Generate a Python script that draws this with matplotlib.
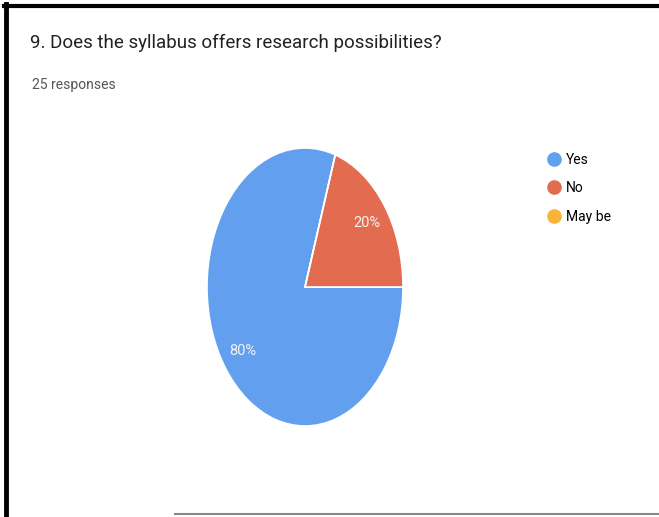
import matplotlib.pyplot as plt
from matplotlib.lines import Line2D

title = '9. Does the syllabus offers research possibilities?'
subtitle = '25 responses'
labels = ['Yes', 'No', 'May be']
values = [80, 20, 0]
colors = ['#62a0ef', '#e36b4f', '#f8b439']

plt.rcParams['font.family'] = ['Roboto', 'DejaVu Sans']

fig = plt.figure(figsize=(6.59, 5.17), dpi=100)
fig.patch.set_facecolor('white')

# pie drawn stretched (scan looks squeezed horizontally)
ax = fig.add_axes([207 / 659, 91 / 517, 196 / 659, 278 / 517])
wedges, texts, autotexts = ax.pie(values, colors=colors, startangle=72, counterclock=True,
                                  autopct=lambda p: '%d%%' % round(p) if p > 0 else '',
                                  pctdistance=0.78,
                                  wedgeprops=dict(linewidth=1.2, edgecolor='white'),
                                  textprops=dict(color='#f3f3f3', fontsize=10.5))
ax.set_aspect('auto')
ax.set_xlim(-1, 1)
ax.set_ylim(-1, 1)

# title and response count
fig.text(30 / 659, 1 - 43 / 517, title, fontsize=13.5, color='#222222', va='center', ha='left')
fig.text(32 / 659, 1 - 85 / 517, subtitle, fontsize=10, color='#555555', va='center', ha='left')

# legend
handles = [Line2D([0], [0], marker='o', linestyle='', markersize=9.5,
                  markerfacecolor=c, markeredgecolor=c) for c in colors]
fig.legend(handles, labels, loc='upper left', bbox_to_anchor=(541 / 659, 1 - 147 / 517),
           frameon=False, fontsize=10, handletextpad=0.4, labelspacing=1.05,
           handlelength=1.0, borderaxespad=0)

# scan border
fig.add_artist(Line2D([6 / 659, 6 / 659], [0, 1 - 4 / 517], color='black', linewidth=3.5))
fig.add_artist(Line2D([4 / 659, 1], [1 - 6 / 517, 1 - 6 / 517], color='black', linewidth=3))
fig.add_artist(Line2D([175 / 659, 1], [3 / 517, 3 / 517], color='#888888', linewidth=1.5))

plt.savefig('out.png', dpi=100, facecolor='white')
